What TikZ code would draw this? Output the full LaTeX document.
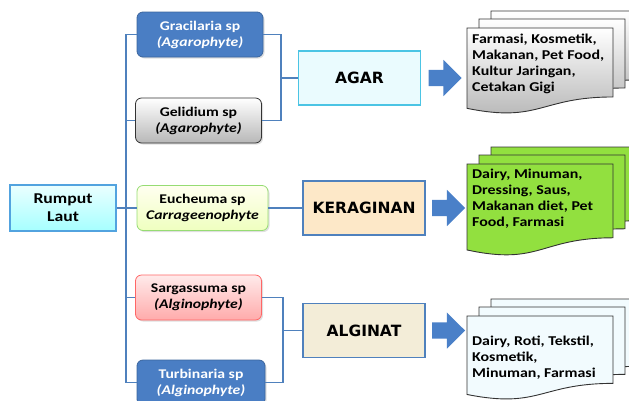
\documentclass[tikz,border=0pt]{standalone}
\usepackage{fontspec}
\setmainfont{Carlito}[FakeStretch=1.18]
\newfontfamily\prodfont{DejaVu Sans}
\usepackage{xcolor}
\usepackage{tikz}
\usetikzlibrary{positioning, shapes.arrows, shadows}
\definecolor{lineblue}{HTML}{4F81BD}
\definecolor{boxblue}{HTML}{4A7EC4}
\definecolor{arrowblue}{HTML}{4A80C8}
\definecolor{leafgreen}{HTML}{92E03F}
\definecolor{agarfill}{HTML}{EAFBFE}
\definecolor{agarline}{HTML}{4BC4E4}
\definecolor{kerafill}{HTML}{FDE8C8}
\definecolor{algifill}{HTML}{F3EDD8}
% three stacked pages: left x, top y, height, fill options
\newcommand{\docpages}[4]{%
  \foreach \dx/\dy in {24/-17, 12/-9, 0/0} {
    \pgfmathsetmacro{\pl}{#1+\dx}
    \pgfmathsetmacro{\pr}{#1+\dx+146}
    \pgfmathsetmacro{\pm}{#1+\dx+73}
    \pgfmathsetmacro{\pt}{#2+\dy}
    \pgfmathsetmacro{\qr}{#2+\dy+0.802*#3}
    \pgfmathsetmacro{\qc}{#2+\dy+1.1075*#3}
    \pgfmathsetmacro{\ql}{#2+\dy+0.934*#3}
    \draw[docpage, #4] (\pl,\pt) -- (\pr,\pt) -- (\pr,\qr)
      .. controls (\pm,\qr) and (\pm,\qc) .. (\pl,\ql) -- cycle;
  }
}

\begin{document}
\begin{tikzpicture}[x=1pt, y=-1pt,
  conn/.style={draw=lineblue, line width=1.1pt},
  species/.style={rounded corners=6pt, minimum width=126pt, minimum height=45pt,
    align=center, inner sep=2pt, line width=0.8pt,
    font=\fontsize{13.3}{16}\selectfont\bfseries,
    drop shadow={opacity=0.25, shadow xshift=1.5pt, shadow yshift=-1.5pt}},
  bluebox/.style={species, fill=boxblue, draw=boxblue!80!black, text=white},
  prod/.style={minimum width=122pt, minimum height=54pt, line width=1.6pt,
    font=\prodfont\bfseries\fontsize{15.5}{18}\selectfont},
  barrow/.style={single arrow, fill=arrowblue, draw=none, inner xsep=0pt,
    inner ysep=8pt, minimum height=33pt, single arrow head extend=10pt,
    anchor=west},
  docpage/.style={draw=black!80, line width=0.9pt},
  doctext/.style={anchor=north west, align=left, inner sep=2pt,
    font=\fontsize{13.5}{16}\selectfont\bfseries}
]
\clip (0,0) rectangle (629,400);

% Root
\node[draw=cyan!70!blue!70, line width=1.2pt, top color=cyan!8, bottom color=cyan!35,
  minimum width=106pt, minimum height=46pt, align=center,
  font=\fontsize{15}{18}\selectfont\bfseries] (root) at (63,208) {Rumput\\Laut};

% Species
\node[bluebox] (grac) at (200,34.5) {Gracilaria sp\\\textit{(Agarophyte)}};
\node[species, draw=black!80, top color=white, bottom color=black!28] (geli) at (198.5,120.5) {Gelidium sp\\\textit{(Agarophyte)}};
\node[species, minimum width=131pt, draw=green!50!olive!55, top color=yellow!6, bottom color=lime!25] (euch) at (202.5,208) {Eucheuma sp\\\textit{Carrageenophyte}};
\node[species, draw=red!60, top color=red!8, bottom color=red!33] (sarg) at (198.5,297.5) {Sargassuma sp\\\textit{(Alginophyte)}};
\node[bluebox, minimum width=128pt] (turb) at (201,382.5) {Turbinaria sp\\\textit{(Alginophyte)}};

% Products
\node[prod, draw=agarline, fill=agarfill] (agar) at (359.5,78) {AGAR};
\node[prod, draw=lineblue, fill=kerafill] (kera) at (364,208) {KERAGINAN};
\node[prod, draw=lineblue, fill=algifill] (algi) at (364,330.5) {ALGINAT};

% Connectors
\coordinate (trunk) at (126,0);
\coordinate (jagar) at (281,0);
\coordinate (jalgi) at (283,0);
\draw[conn] (grac.west) -- (grac.west -| trunk) -- (turb.west -| trunk) -- (turb.west);
\draw[conn] (geli.west) -- (geli.west -| trunk);
\draw[conn] (sarg.west) -- (sarg.west -| trunk);
\draw[conn] (root.east) -- (euch.west);
\draw[conn] (grac.east) -- (grac.east -| jagar) -- (geli.east -| jagar) -- (geli.east);
\draw[conn] (agar.west -| jagar) -- (agar.west);
\draw[conn] (euch.east) -- (kera.west);
\draw[conn] (sarg.east) -- (sarg.east -| jalgi) -- (turb.east -| jalgi) -- (turb.east);
\draw[conn] (algi.west -| jalgi) -- (algi.west);

% Block arrows
\node[barrow, right=7pt of agar] (agarArrow) {};
\node[barrow, right=6pt of kera] (keraArrow) {};
\node[barrow, right=6pt of algi] (algiArrow) {};

% Pages
\docpages{467}{28}{86}{top color=white, bottom color=black!30}
\docpages{467}{164}{92}{fill=leafgreen}
\docpages{467}{316}{84}{fill=cyan!5}

% Uses
\node[doctext] (agarUse) at (470,32) {Farmasi, Kosmetik,\\Makanan, Pet Food,\\Kultur Jaringan,\\Cetakan Gigi};
\node[doctext] (keraUse) at (470,167) {Dairy, Minuman,\\Dressing, Saus,\\Makanan diet, Pet\\Food, Farmasi};
\node[doctext] (algiUse) at (470,334) {Dairy, Roti, Tekstil,\\Kosmetik,\\Minuman, Farmasi};

\end{tikzpicture}
\end{document}
